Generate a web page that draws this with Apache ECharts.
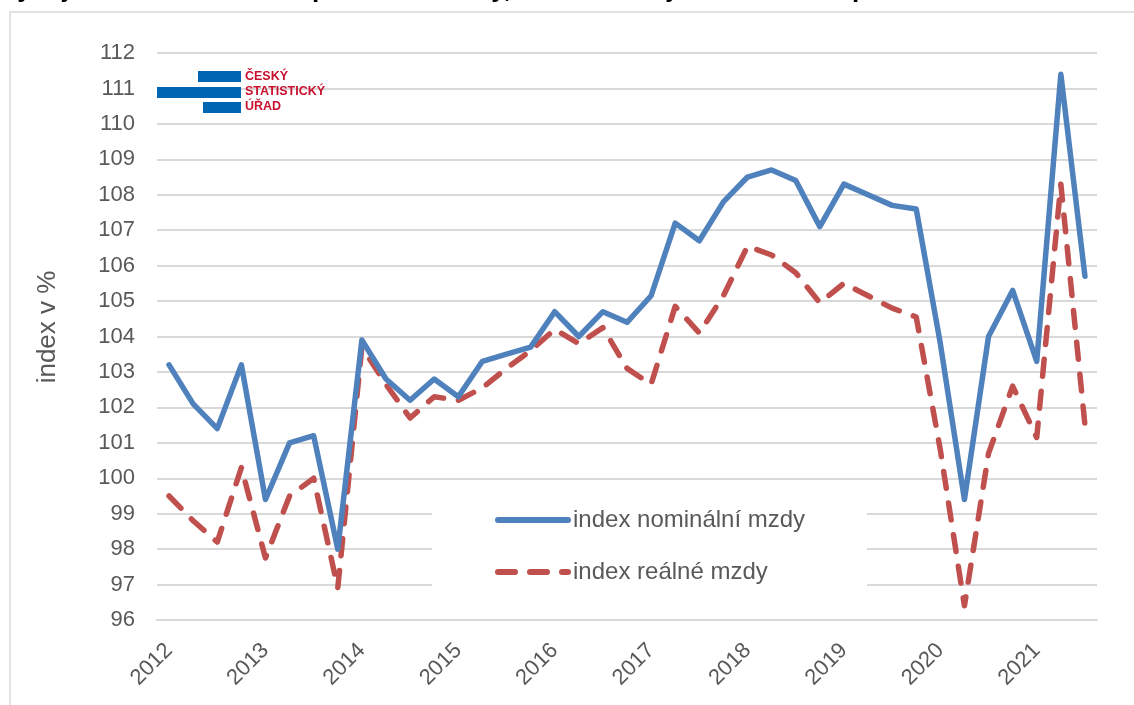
<!DOCTYPE html>
<html>
<head>
<meta charset="utf-8">
<script src="https://cdn.jsdelivr.net/npm/echarts@6/dist/echarts.min.js"></script>
<style>
html,body{margin:0;padding:0;background:#fff;}
#c{width:1134px;height:705px;}
</style>
</head>
<body>
<div id="c"></div>
<script>
const titleText = 'Vývoj nominální a reálné průměrné mzdy, index ke stejnému čtvrtletí předchozího roku';
const yAxisName = 'index v %';
const years = ['2012','2013','2014','2015','2016','2017','2018','2019','2020','2021'];
const quarters = ['Q1','Q2','Q3','Q4'];
const categories = [];
years.forEach(y => quarters.forEach(q => categories.push(y + ' ' + q)));
categories.length = 39; // 2012 Q1 – 2021 Q3

const seriesNames = ['index nominální mzdy', 'index reálné mzdy'];
const nominal = [103.2,102.1,101.4,103.2, 99.4,101.0,101.2,98.0, 103.9,102.8,102.2,102.8,
  102.3,103.3,103.5,103.7, 104.7,104.0,104.7,104.4, 105.15,107.2,106.7,107.8,
  108.5,108.7,108.4,107.1, 108.3,108.0,107.7,107.6, 103.8,99.4,104.0,105.3,
  103.3,111.4,105.7];
const real = [99.5,98.8,98.2,100.3, 97.75,99.5,100.0,96.9, 103.7,102.65,101.7,102.3,
  102.2,102.55,103.1,103.6, 104.2,103.8,104.25,103.1, 102.65,104.85,104.1,105.15,
  106.55,106.3,105.8,104.95, 105.5,105.15,104.8,104.55, 100.8,96.4,100.7,102.6,
  101.15,108.3,101.5];
const logoLines = ['ČESKÝ','STATISTICKÝ','ÚŘAD'];

const font = '"Liberation Sans", Arial, sans-serif';
const chart = echarts.init(document.getElementById('c'));
chart.setOption({
  animation: false,
  backgroundColor: '#fff',
  textStyle: {fontFamily: font},
  grid: {left: 157, right: 37, top: 53, bottom: 85, containLabel: false},
  xAxis: {
    type: 'category',
    data: categories,
    boundaryGap: true,
    axisLine: {show: true, lineStyle: {color: '#D9D9D9', width: 2}},
    axisTick: {show: false},
    axisLabel: {
      interval: 3, rotate: 45, margin: 27,
      color: '#595959', fontSize: 22, fontFamily: font,
      formatter: v => v.slice(0, 4)
    },
    splitLine: {show: false}
  },
  yAxis: {
    type: 'value', min: 96, max: 112, interval: 1,
    axisLine: {show: false}, axisTick: {show: false},
    axisLabel: {color: '#595959', fontSize: 22, margin: 22, fontFamily: font},
    splitLine: {lineStyle: {color: '#D9D9D9', width: 2}}
  },
  legend: {
    orient: 'vertical',
    left: 432, top: 485,
    padding: [23, 62, 23, 63],
    backgroundColor: '#fff',
    itemGap: 28, itemWidth: 70, itemHeight: 22,
    textStyle: {color: '#595959', fontSize: 24, fontFamily: font},
    itemStyle: {opacity: 0},
    lineStyle: {width: 6, cap: 'round'},
    data: seriesNames
  },
  series: [
    {
      name: seriesNames[0], type: 'line', data: nominal, symbol: 'none',
      lineStyle: {color: '#4F81BD', width: 5.5, cap: 'round', join: 'round'},
      itemStyle: {color: '#4F81BD'}, z: 3
    },
    {
      name: seriesNames[1], type: 'line', data: real, symbol: 'none',
      lineStyle: {color: '#C0504D', width: 5.5, type: [17, 15], cap: 'round', join: 'round'},
      itemStyle: {color: '#C0504D'}, z: 2
    }
  ],
  graphic: [
    {type: 'rect', silent: true, z: -10, shape: {x: 10, y: 12, width: 1140, height: 710},
     style: {fill: 'none', stroke: '#D9D9D9', lineWidth: 1.5}},
    {type: 'text', left: 0, top: -23, z: 10,
     style: {text: titleText, fill: '#000', font: 'bold 26px ' + font}},
    {type: 'text', x: 48, y: 327, rotation: Math.PI / 2, z: 10,
     style: {text: yAxisName, fill: '#595959', font: '26px ' + font, align: 'center', verticalAlign: 'middle'}},
    {type: 'rect', shape: {x: 198, y: 71, width: 43, height: 11}, style: {fill: '#0066B3'}, z: 10},
    {type: 'rect', shape: {x: 157, y: 87, width: 84, height: 11}, style: {fill: '#0066B3'}, z: 10},
    {type: 'rect', shape: {x: 203, y: 102, width: 38, height: 11}, style: {fill: '#0066B3'}, z: 10},
    {type: 'text', x: 245, y: 70, z: 10, style: {text: logoLines[0], fill: '#C8102E', font: 'bold 12.5px ' + font}},
    {type: 'text', x: 245, y: 85, z: 10, style: {text: logoLines[1], fill: '#C8102E', font: 'bold 12.5px ' + font}},
    {type: 'text', x: 245, y: 100, z: 10, style: {text: logoLines[2], fill: '#C8102E', font: 'bold 12.5px ' + font}}
  ]
});
</script>
</body>
</html>
